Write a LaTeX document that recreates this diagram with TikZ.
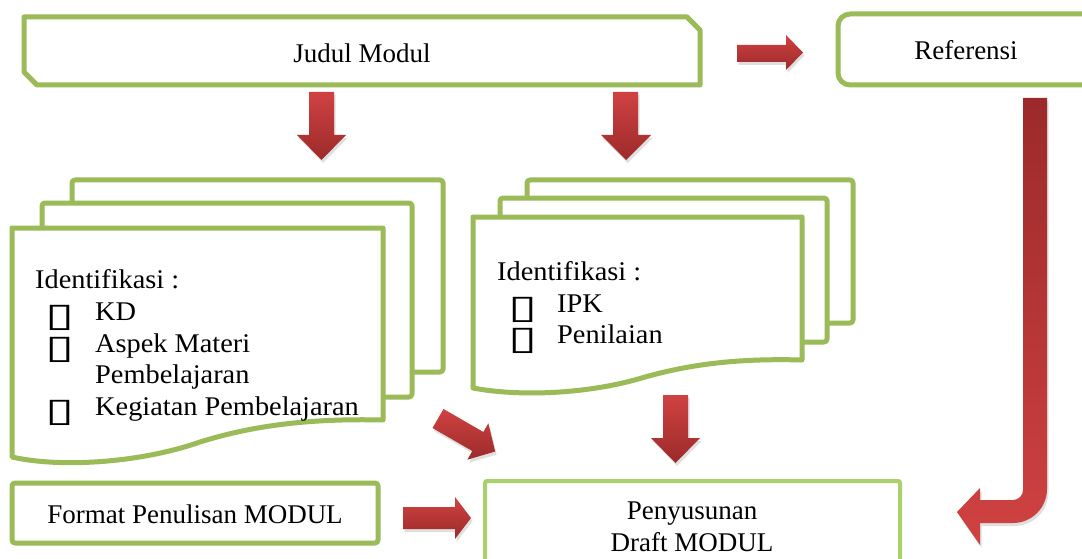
\documentclass[tikz,border=0pt]{standalone}
\usepackage{fontspec}
\setmainfont{Liberation Serif}
\newfontfamily\symfont[FakeStretch=1.6]{DejaVu Sans}
\newfontfamily\itemfont[FakeStretch=1.05]{Liberation Serif}
\usetikzlibrary{shadows}
\definecolor{lgreen}{HTML}{9BBB59}
\definecolor{lgreenb}{HTML}{A9D06A}
\definecolor{redlight}{HTML}{D04242}
\definecolor{reddark}{HTML}{9C2A2A}
\tikzset{
  frame/.style={draw=lgreen, line width=5pt, fill=white, line join=round},
  blockarrow/.style={top color=redlight, bottom color=reddark, draw=none,
    drop shadow={opacity=0.25, shadow xshift=1.5pt, shadow yshift=-3pt}},
  lbl/.style={inner sep=0pt, anchor=base, font=\fontsize{27}{32}\selectfont},
  item/.style={inner sep=0pt, anchor=base west, font=\itemfont\fontsize{27}{32}\selectfont},
  bul/.style={inner sep=0pt, anchor=base west, font=\symfont\fontsize{33}{34}\selectfont},
}
\begin{document}
\begin{tikzpicture}[x=1pt,y=-1pt]
\useasboundingbox (0,0) rectangle (1082,559);
\clip (0,0) rectangle (1082,559);
\fill[white] (0,0) rectangle (1082,559);

% Judul Modul
\draw[frame] (24,17) -- (687,17) -- (700,30) -- (700,85) -- (37,85) -- (24,72) -- cycle;
\node[lbl] (judul) at (362,63) {Judul Modul};

% Referensi
\draw[frame, rounded corners=12pt] (838,14) rectangle (1100,85);
\node[lbl] (ref) at (966,60) {Referensi};

% arrow Judul -> Referensi
\path[blockarrow] (737,45) -- (786,45) -- (786,35) -- (803,52.5) -- (786,70) -- (786,62) -- (737,62) -- cycle;

% down arrows from Judul
\path[blockarrow] (309,92) -- (334,92) -- (334,135) -- (346,135) -- (321.5,160) -- (297,135) -- (309,135) -- cycle;
\path[blockarrow] (613,92) -- (638,92) -- (638,135) -- (651,135) -- (626,160) -- (601,135) -- (613,135) -- cycle;

% left stack
\draw[frame, rounded corners=3pt] (72,180) rectangle (443,372);
\draw[frame, rounded corners=3pt] (42,203) rectangle (412,397);
\draw[frame] (12,228) -- (383,228) -- (383,420)
  .. controls (300,418) and (245,428) .. (200,442)
  .. controls (140,463) and (60,468) .. (12,457) -- cycle;
\node[item] (idA) at (35,288) {Identifikasi :};
\node[bul] (bA1) at (45,326) {▯};
\node[item] (kd) at (95,320) {KD};
\node[bul] (bA2) at (45,358) {▯};
\node[item] (aspek) at (95,352) {Aspek Materi};
\node[item] (pemb) at (95,383) {Pembelajaran};
\node[bul] (bA3) at (45,421) {▯};
\node[item] (keg) at (95,415) {Kegiatan Pembelajaran};

% right stack
\draw[frame, rounded corners=3pt] (527,180) rectangle (853,323);
\draw[frame, rounded corners=3pt] (500,198) rectangle (827,342);
\draw[frame] (473,217) -- (802,217) -- (802,360)
  .. controls (730,358) and (685,366) .. (645,377)
  .. controls (590,394) and (520,397) .. (473,388) -- cycle;
\node[item] (idB) at (497,280) {Identifikasi :};
\node[bul] (bB1) at (508,318) {▯};
\node[item] (ipk) at (557,312) {IPK};
\node[bul] (bB2) at (508,349) {▯};
\node[item] (pen) at (557,343) {Penilaian};

% arrows into Penyusunan
\begin{scope}[shift={(438,418.5)}, rotate=-30]
  \path[blockarrow] (0,-11) -- (46,-11) -- (46,-21) -- (66,0) -- (46,21) -- (46,11) -- (0,11) -- cycle;
\end{scope}
\path[blockarrow] (663,395) -- (688,395) -- (688,438) -- (700,438) -- (675.5,463) -- (651,438) -- (663,438) -- cycle;
\path[blockarrow] (403,507) -- (455,507) -- (455,497) -- (471,518) -- (455,539) -- (455,529) -- (403,529) -- cycle;

% long arrow from Referensi
\path[blockarrow, top color=reddark, bottom color=redlight]
  (1023,98) -- (1047,98) [rounded corners=34pt] -- (1047,523) [sharp corners] -- (980,523)
  -- (980,545) -- (957,512) -- (980,488) -- (980,500) [rounded corners=10pt] -- (1023,500)
  [sharp corners] -- cycle;

% Format Penulisan MODUL
\draw[frame, rounded corners=3pt] (12,483) rectangle (378,543);
\node[lbl] (fmt) at (195,523) {Format Penulisan MODUL};

% Penyusunan Draft MODUL
\draw[draw=lgreenb, line width=4pt, rounded corners=2pt, fill=white] (485,481) rectangle (900,590);
\node[lbl] (pen1) at (692,519) {Penyusunan};
\node[lbl] (pen2) at (692,551) {Draft MODUL};
\end{tikzpicture}
\end{document}
